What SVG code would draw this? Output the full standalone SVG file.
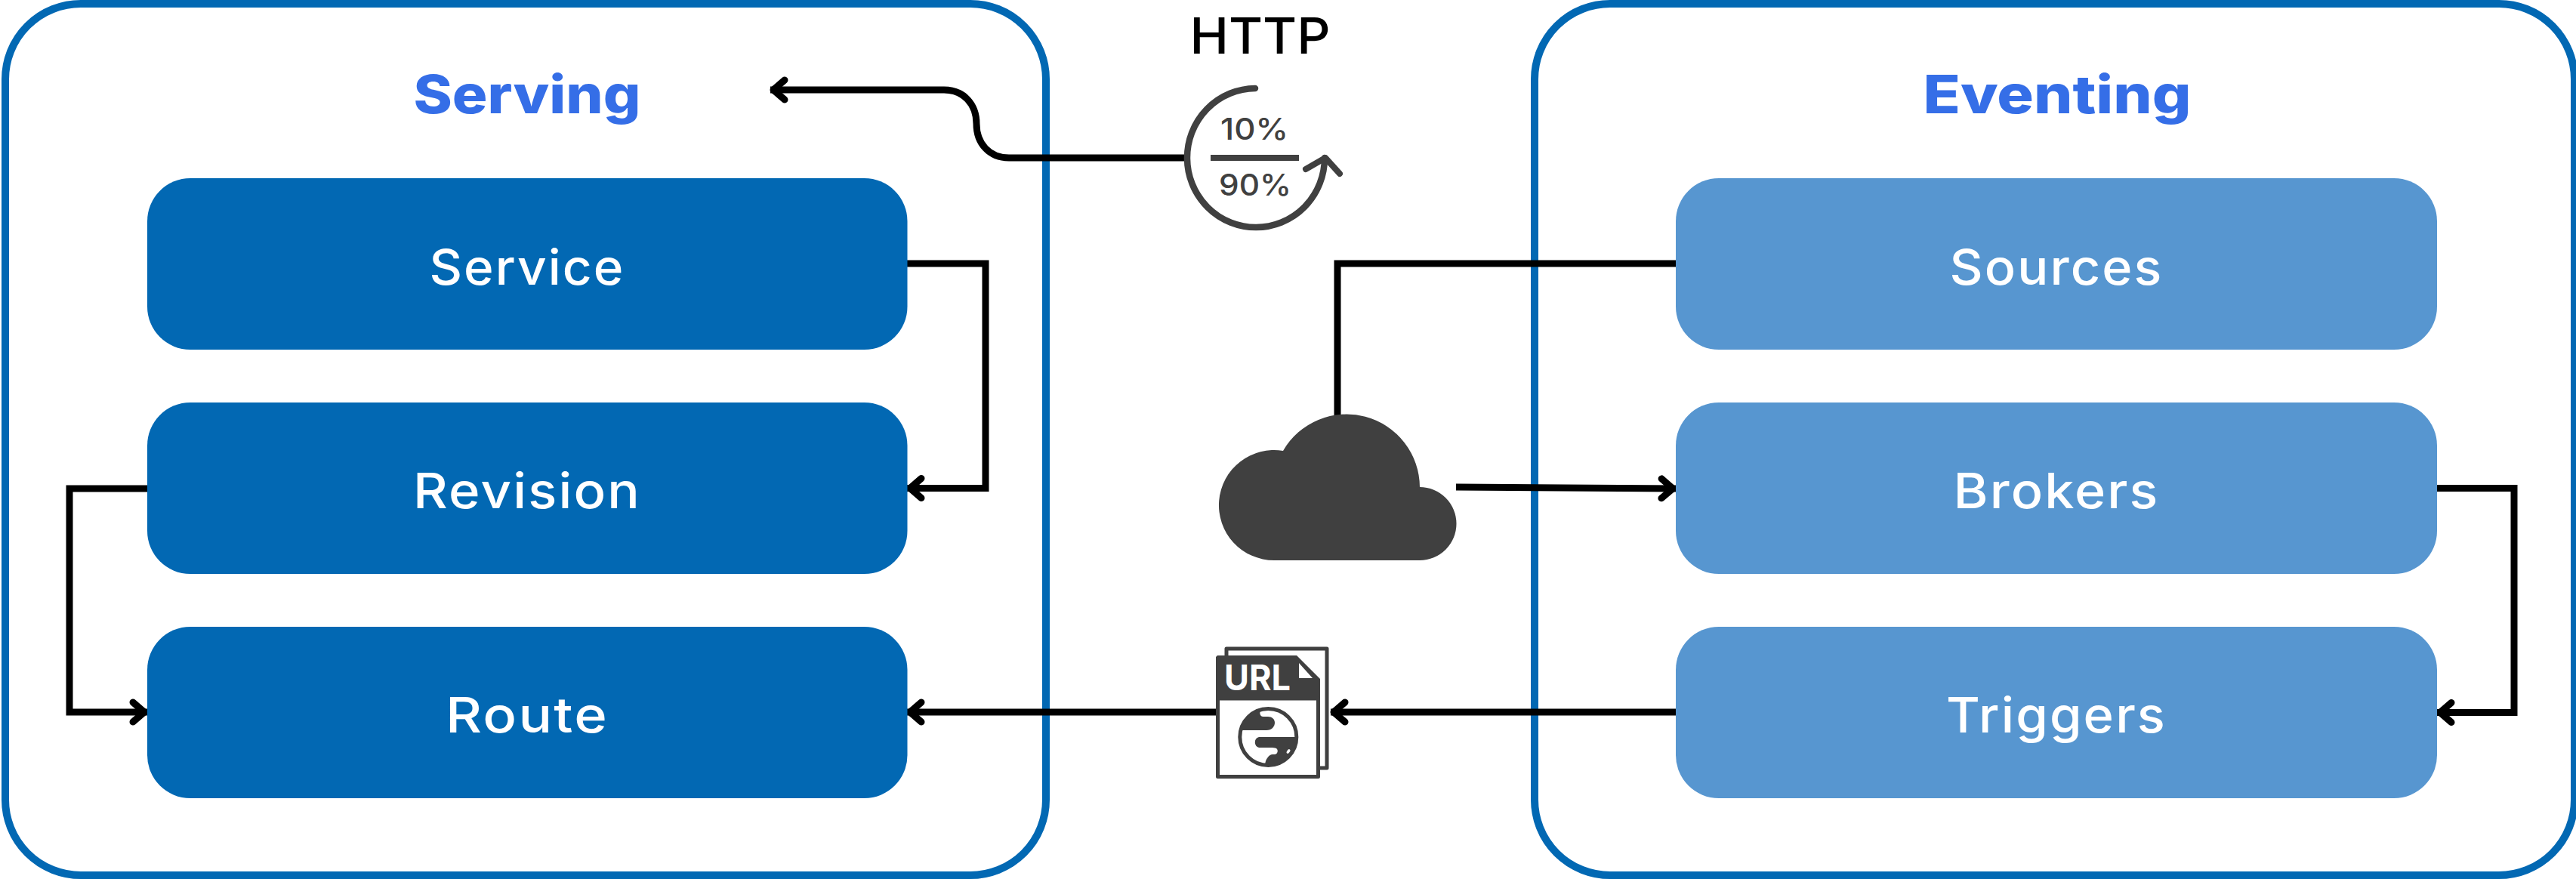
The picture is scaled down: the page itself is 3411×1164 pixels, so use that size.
<svg xmlns="http://www.w3.org/2000/svg" width="3411" height="1164" viewBox="0 0 3411 1164">
<defs>
<marker id="arrow" markerUnits="userSpaceOnUse" markerWidth="40" markerHeight="50" refX="27" refY="20" orient="auto" overflow="visible">
<path d="M8 7 L23 20 L8 33" fill="none" stroke="#000" stroke-width="9" stroke-linecap="round" stroke-linejoin="round"/>
</marker>
</defs>
<style>
.frame{fill:#fff;stroke:#0268b3;stroke-width:10}
.dark{fill:#0268b3}
.light{fill:#5796d0}
.label{font-family:Inter,"Liberation Sans",sans-serif;font-size:65px;font-weight:450;fill:#fff;text-anchor:middle;letter-spacing:2px}
.title{font-family:Inter,"Liberation Sans",sans-serif;font-size:70px;font-weight:800;fill:#356ee7;text-anchor:middle}
.pct{font-family:Inter,"Liberation Sans",sans-serif;font-size:39px;font-weight:500;fill:#404040;text-anchor:middle}
.conn{fill:none;stroke:#000;stroke-width:9;marker-end:url(#arrow)}
.plain{fill:none;stroke:#000;stroke-width:9}
.ico{fill:#404040}
</style>
<rect width="3411" height="1164" fill="#fff"/>
<g id="serving">
<rect class="frame" x="7" y="5" width="1378" height="1154" rx="100" ry="100"/>
<text class="title" x="698" y="150" textLength="301" lengthAdjust="spacingAndGlyphs">Serving</text>
</g>
<g id="eventing">
<rect class="frame" x="2032" y="5" width="1377" height="1154" rx="100" ry="100"/>
<text class="title" x="2724" y="150" textLength="355" lengthAdjust="spacingAndGlyphs">Eventing</text>
</g>
<g id="connectors">
<path class="conn" d="M1568 209H1336C1310 209 1293 190 1293 164C1293 138 1276 119 1250 119H1020"/>
<path class="conn" d="M1201 349H1305V646.500H1201"/>
<path class="conn" d="M195 647H92V943H195"/>
<path class="conn" d="M1610 943H1201"/>
<path class="plain" d="M2219 349H1771V550"/>
<path class="conn" d="M1928 645L2219 647"/>
<path class="conn" d="M3227 646.500H3329V943.500H3227"/>
<path class="conn" d="M2219 943H1762"/>
</g>
<g id="service"><rect class="dark" x="195" y="236" width="1006.500" height="227" rx="57"/><text class="label" x="698" y="377" textLength="259" lengthAdjust="spacingAndGlyphs">Service</text></g>
<g id="revision"><rect class="dark" x="195" y="533" width="1006.500" height="227" rx="57"/><text class="label" x="698" y="673" textLength="302" lengthAdjust="spacingAndGlyphs">Revision</text></g>
<g id="route"><rect class="dark" x="195" y="830" width="1006.500" height="227" rx="57"/><text class="label" x="698" y="970" textLength="216" lengthAdjust="spacingAndGlyphs">Route</text></g>
<g id="sources"><rect class="light" x="2219" y="236" width="1008" height="227" rx="57"/><text class="label" x="2723" y="377" textLength="283" lengthAdjust="spacingAndGlyphs">Sources</text></g>
<g id="brokers"><rect class="light" x="2219" y="533" width="1008" height="227" rx="57"/><text class="label" x="2723" y="673" textLength="273" lengthAdjust="spacingAndGlyphs">Brokers</text></g>
<g id="triggers"><rect class="light" x="2219" y="830" width="1008" height="227" rx="57"/><text class="label" x="2723" y="970" textLength="292" lengthAdjust="spacingAndGlyphs">Triggers</text></g>
<g id="http">
<text x="1668.500" y="71" font-family="Inter,'Liberation Sans',sans-serif" font-size="66" font-weight="500" fill="#000" text-anchor="middle" textLength="186" lengthAdjust="spacingAndGlyphs">HTTP</text>
<path d="M1662 117A91 92 0 1 0 1754 209" fill="none" stroke="#404040" stroke-width="8.500" stroke-linecap="round"/>
<path d="M1729 224L1755 209L1774 230" fill="none" stroke="#404040" stroke-width="8" stroke-linecap="round" stroke-linejoin="round"/>
<rect class="ico" x="1603" y="205" width="117" height="8"/>
<text class="pct" x="1661" y="185" textLength="90" lengthAdjust="spacingAndGlyphs">10%</text>
<text class="pct" x="1662" y="259" textLength="96" lengthAdjust="spacingAndGlyphs">90%</text>
</g>
<g id="cloud">
<path class="ico" d="M1687 742A73 73 0 1 1 1699 597A97 97 0 0 1 1880 645A48.500 48.500 0 0 1 1880 742Z"/>
</g>
<g id="url">
<rect x="1624" y="859" width="133" height="158" fill="#fff" stroke="#404040" stroke-width="5" stroke-linejoin="round"/>
<path class="ico" d="M1612 868H1717L1748 899V927H1610V870Z"/>
<rect x="1612.500" y="925" width="133" height="103.500" fill="#fff" stroke="#404040" stroke-width="5" stroke-linejoin="round"/>
<path d="M1720 878V898H1738Z" fill="#fff"/>
<text x="1665" y="914" font-family="Inter,'Liberation Sans',sans-serif" font-size="47" font-weight="700" fill="#fff" text-anchor="middle" textLength="88" lengthAdjust="spacingAndGlyphs">URL</text>
<circle cx="1679.300" cy="976" r="37.500" fill="#fff" stroke="#404040" stroke-width="5"/>
<path class="ico" d="M1642 967H1677C1684 967 1688 962 1688 957C1688 952 1684 949 1679 949H1673C1667 949 1667 941 1672 938A38 38 0 0 0 1642 967Z"/>
<path class="ico" d="M1667 976H1717A38 38 0 0 1 1675 1014C1675 1005 1681 999 1685 999H1688C1692 999 1693 993 1690 991C1688 990 1685 990 1683 990H1667A7.300 7.300 0 0 1 1667 976Z"/>
<ellipse cx="1706" cy="995" rx="1.800" ry="3.200" transform="rotate(35 1706 995)" fill="#fff"/>
</g>
</svg>
